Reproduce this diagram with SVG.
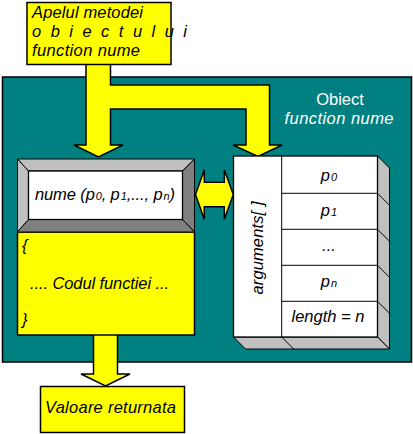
<svg xmlns="http://www.w3.org/2000/svg" width="413" height="434" viewBox="0 0 413 434">
<style>
.y{fill:#ffff00;stroke:#000;stroke-width:1.5}
.w{fill:#fff;stroke:#000;stroke-width:1.3}
.g{fill:#c0c0c0;stroke:#000;stroke-width:1}
.d{fill:#808080;stroke:#000;stroke-width:1}
.ln{stroke:#000;stroke-width:1;fill:none}
text{font-family:"Liberation Sans",Arial,sans-serif;font-style:italic;font-size:16.5px;fill:#000}
.c{text-anchor:middle}
.sub{font-size:11px}
</style>
<rect width="413" height="434" fill="#fff"/>
<g id="obiect">
<rect x="2.5" y="77" width="409" height="285" fill="#008080" stroke="#000" stroke-width="1.5"/>
<text x="340" y="105" class="c" style="font-style:normal;fill:#fff">Obiect</text>
<text x="339" y="124" class="c" style="fill:#fff" textLength="109">function nume</text>
</g>
<g id="connectors">
<path class="y" d="M86,64 V145 H74 L98.5,157 L123,145 H110.5 V109 H246 V145 H233 L258,156.5 L282,145 H269.5 V85 H110.5 V64"/>
<path class="y" d="M93.5,335 V374 H81 L105.5,386 L130,374 H117.5 V335"/>
<path class="y" d="M195.5,194.5 L204.3,170 V182.3 H224.3 V170 L233.3,194.5 L224.3,219.3 V206.7 H204.3 V219.3 Z"/>
</g>
<g id="apel">
<rect class="y" x="27" y="2.5" width="144" height="62"/>
<text x="32" y="18" textLength="111">Apelul metodei</text>
<text x="32" y="37" textLength="155" lengthAdjust="spacing">o b i e c t u l u i</text>
<text x="32" y="56" textLength="108">function nume</text>
</g>
<g id="functie">
<rect class="y" x="17.5" y="232" width="177" height="103"/>
<polygon class="g" points="17.5,159 194.5,159 182.5,171 28.5,171"/>
<polygon class="g" points="17.5,159 28.5,171 28.5,219.5 17.5,232"/>
<polygon class="d" points="194.5,159 194.5,232 182.5,219.5 182.5,171"/>
<polygon class="d" points="17.5,232 28.5,219.5 182.5,219.5 194.5,232"/>
<rect class="w" x="28.5" y="171" width="154" height="48.5"/>
<text x="35" y="200" textLength="140">nume (p<tspan class="sub" dx="1">0</tspan>, p<tspan class="sub" dx="1">1</tspan>,..., p<tspan class="sub" dx="1">n</tspan>)</text>
<text x="22" y="251">{</text>
<text x="30" y="289" textLength="139">.... Codul functiei ...</text>
<text x="22" y="325">}</text>
</g>
<g id="arguments">
<polygon class="g" points="377.5,156 389.5,168 389.5,349 377.5,337"/>
<polygon class="g" points="233.5,337 377.5,337 389.5,349 245.5,349"/>
<path class="ln" d="M377.5,193.3 L389.5,205.3 M377.5,229.3 L389.5,241.3 M377.5,265.3 L389.5,277.3 M377.5,301.3 L389.5,313.3 M281.7,337 L293.7,349"/>
<rect class="w" x="233.5" y="156" width="144" height="181"/>
<path class="ln" d="M281.7,156 V337 M281.7,193.3 H377.5 M281.7,229.3 H377.5 M281.7,265.3 H377.5 M281.7,301.3 H377.5"/>
<text transform="translate(263,248) rotate(-90)" class="c" textLength="93">arguments[ ]</text>
<text x="329" y="181" class="c">p<tspan class="sub" dx="1">0</tspan></text>
<text x="329" y="216" class="c">p<tspan class="sub" dx="1">1</tspan></text>
<text x="329" y="251" class="c">...</text>
<text x="329" y="287" class="c">p<tspan class="sub" dx="1">n</tspan></text>
<text x="328" y="322" class="c" textLength="73">length = n</text>
</g>
<g id="valoare">
<rect class="y" x="40.5" y="386.5" width="144" height="46"/>
<text x="45" y="413" textLength="131">Valoare returnata</text>
</g>
</svg>
